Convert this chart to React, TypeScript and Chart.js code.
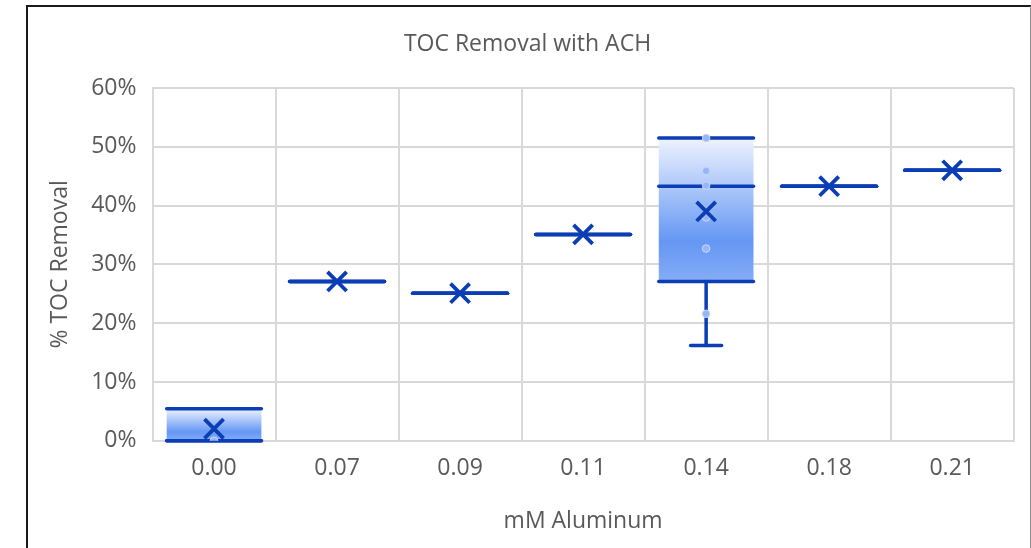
import React, { useEffect, useRef } from "react";
import { Chart, registerables } from "chart.js";

Chart.register(...registerables);

const categories = ["0.00", "0.07", "0.09", "0.11", "0.14", "0.18", "0.21"];
const whiskerMin = [0, 0.271, 0.251, 0.351, 0.162, 0.433, 0.46];
const q1 = [0, 0.271, 0.251, 0.351, 0.271, 0.433, 0.46];
const median = [0, 0.271, 0.251, 0.351, 0.433, 0.433, 0.46];
const q3 = [0.0545, 0.271, 0.251, 0.351, 0.515, 0.433, 0.46];
const whiskerMax = [0.0545, 0.271, 0.251, 0.351, 0.515, 0.433, 0.46];
const means = [0.0205, 0.271, 0.251, 0.351, 0.39, 0.433, 0.46];
const pointCats = ["0.00", "0.14", "0.14", "0.14", "0.14", "0.14", "0.14"];
const pointVals = [0, 0.515, 0.459, 0.434, 0.38, 0.327, 0.216];

const LINE = "#0b3db5";
const TEXT = "#595959";
const GRID = "#d9d9d9";
const FONT = "'Open Sans', sans-serif";

const boxLines = {
  id: "boxLines",
  afterDatasetDraw(chart: any, args: any) {
    if (args.index !== 0) return;
    const { ctx, scales } = chart;
    const x = scales.x;
    const y = scales.y;
    const meta = chart.getDatasetMeta(0);
    ctx.save();
    ctx.strokeStyle = LINE;
    ctx.lineWidth = 3.5;
    ctx.lineCap = "round";
    meta.data.forEach((bar: any, i: number) => {
      const cx = x.getPixelForValue(i);
      const half = bar.width / 2;
      const capHalf = 15.5;
      const hline = (v: number, hw: number) => {
        const py = y.getPixelForValue(v);
        ctx.beginPath();
        ctx.moveTo(cx - hw, py);
        ctx.lineTo(cx + hw, py);
        ctx.stroke();
      };
      const vline = (a: number, b: number) => {
        ctx.beginPath();
        ctx.moveTo(cx, y.getPixelForValue(a));
        ctx.lineTo(cx, y.getPixelForValue(b));
        ctx.stroke();
      };
      if (whiskerMin[i] < q1[i]) {
        vline(q1[i], whiskerMin[i]);
        hline(whiskerMin[i], capHalf);
      }
      if (whiskerMax[i] > q3[i]) {
        vline(q3[i], whiskerMax[i]);
        hline(whiskerMax[i], capHalf);
      }
      hline(q1[i], half);
      hline(q3[i], half);
      hline(median[i], half);
    });
    ctx.restore();
  },
};

export default function App() {
  const ref = useRef<HTMLCanvasElement | null>(null);

  useEffect(() => {
    if (!ref.current) return;
    const chart = new Chart(ref.current, {
      type: "bar",
      data: {
        labels: categories,
        datasets: [
          {
            type: "bar",
            order: 3,
            data: categories.map((_, i) => [q1[i], q3[i]]) as any,
            borderWidth: 0,
            categoryPercentage: 1,
            barPercentage: 0.77,
            backgroundColor: (c: any) => {
              const chartObj = c.chart;
              const area = chartObj.chartArea;
              if (!area || c.type !== "data") return "#7fa6f6";
              const i = c.dataIndex;
              const ys = chartObj.scales.y;
              const top = ys.getPixelForValue(q3[i]);
              const bot = ys.getPixelForValue(q1[i]);
              if (bot - top < 1) return "rgba(0,0,0,0)";
              const g = chartObj.ctx.createLinearGradient(0, top, 0, bot);
              g.addColorStop(0, "#eef3fe");
              g.addColorStop(0.72, "#6597f4");
              g.addColorStop(1, "#86acf6");
              return g;
            },
          } as any,
          {
            type: "line",
            order: 2,
            data: pointCats.map((c, i) => ({ x: c, y: pointVals[i] })) as any,
            showLine: false,
            pointRadius: 3.8,
            pointBackgroundColor: "#98b6f7",
            pointBorderColor: "#c9d8fb",
            pointBorderWidth: 1,
          } as any,
          {
            type: "line",
            order: 1,
            data: means,
            showLine: false,
            pointStyle: "crossRot",
            pointRadius: 13.5,
            pointBorderWidth: 3.8,
            pointBorderColor: LINE,
            pointBackgroundColor: LINE,
          } as any,
        ],
      },
      options: {
        animation: false,
        responsive: false,
        events: [],
        layout: { padding: { left: 41, top: 20, right: 17, bottom: 12.8 } },
        plugins: {
          legend: { display: false },
          tooltip: { enabled: false },
          title: {
            display: true,
            text: "TOC Removal with ACH",
            color: TEXT,
            font: { family: FONT, size: 23, weight: "normal" },
            padding: { top: 10.2, bottom: 30.2 },
          },
        },
        scales: {
          x: {
            grid: { color: GRID, lineWidth: 2, drawTicks: false, offset: true },
            border: { color: GRID, width: 2 },
            ticks: {
              color: TEXT,
              padding: 14,
              font: { family: FONT, size: 23 },
            },
            title: {
              display: true,
              text: "mM Aluminum",
              color: TEXT,
              font: { family: FONT, size: 23 },
              padding: { top: 11.2, bottom: 0 },
            },
          },
          y: {
            min: 0,
            max: 0.6,
            grid: { color: GRID, lineWidth: 2, drawTicks: false },
            border: { color: GRID, width: 2 },
            ticks: {
              stepSize: 0.1,
              color: TEXT,
              padding: 16,
              font: { family: FONT, size: 23 },
              callback: (v: any) => Math.round(Number(v) * 100) + "%",
            },
            title: {
              display: true,
              text: "% TOC Removal",
              color: TEXT,
              font: { family: FONT, size: 23 },
              padding: { top: 5.2, bottom: 1.4 },
            },
          },
        },
      } as any,
      plugins: [boxLines],
    });
    return () => chart.destroy();
  }, []);

  return (
    <div
      style={{
        position: "fixed",
        left: 0,
        top: 0,
        width: 1031,
        height: 548,
        overflow: "hidden",
        background: "#fff",
      }}
    >
      <div
        style={{
          position: "absolute",
          left: 26,
          top: 5,
          width: 1005,
          height: 600,
          boxSizing: "border-box",
          borderLeft: "2px solid #1a1a1a",
          borderTop: "2px solid #1a1a1a",
          borderRight: "1px solid #8c8c8c",
        }}
      />
      <canvas
        ref={ref}
        width={1031}
        height={548}
        style={{ position: "absolute", left: 0, top: 0, display: "block" }}
      />
    </div>
  );
}
